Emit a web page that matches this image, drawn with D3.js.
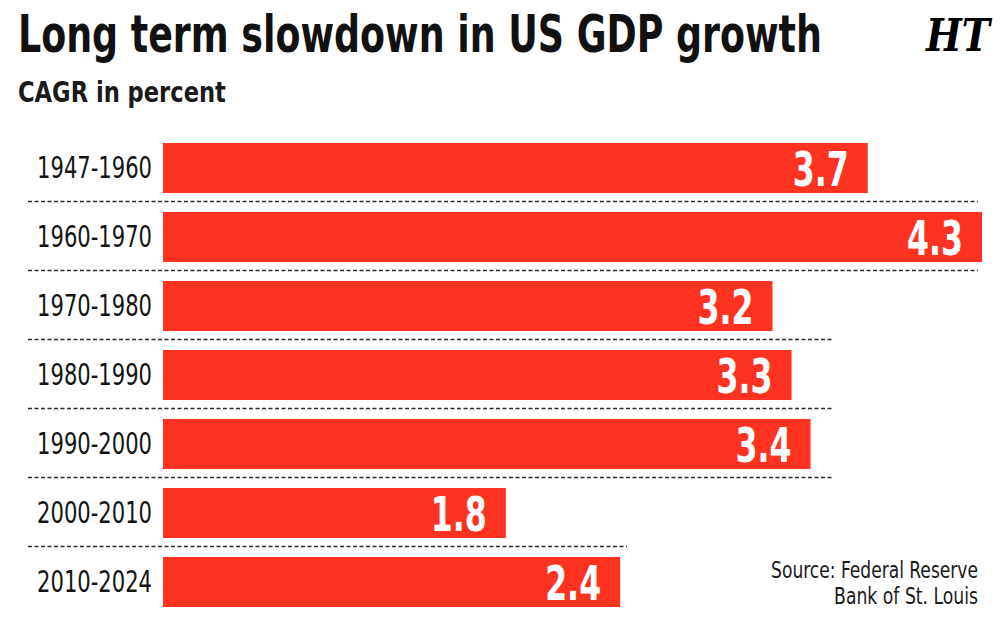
<!doctype html>
<html>
<head>
<meta charset="utf-8">
<style>
    body { margin: 0; background: #fff; }
    svg { display: block; }
    text { font-family: 'DejaVu Sans Condensed', 'Liberation Sans Narrow', sans-serif; }
    .title { font-size: 51px; font-weight: 700; fill: #111; }
    .subtitle { font-size: 28px; font-weight: 700; fill: #1a1a1a; }
    .cat { font-size: 31px; fill: #141414; }
    .value { font-size: 48px; font-weight: 700; fill: #fff; }
    .source { font-size: 23px; fill: #1a1a1a; }
    .logo { font-family: 'DejaVu Serif', serif; font-size: 44px; font-weight: 700; font-style: italic; fill: #000; }
    .bar { fill: #fd3221; }
    .grid { stroke: #2a2a2a; stroke-width: 1.6; stroke-dasharray: 4 2.5; }
</style>
<script src="https://d3js.org/d3.v7.min.js"></script>
</head>
<body>
<svg width="1000" height="625"></svg>
<script>
    const periods = ['1947-1960', '1960-1970', '1970-1980', '1980-1990', '1990-2000', '2000-2010', '2010-2024']
    const cagr = [3.7, 4.3, 3.2, 3.3, 3.4, 1.8, 2.4]

    // right end of each dashed separator (layout only)
    const gridEnds = [978, 978, 834, 834, 834, 627]

    const data = periods.map((p, i) => ({ period: p, value: cagr[i] }))

    const svg = d3.select('svg')

    // squeeze a text horizontally so it spans the given width, anchored at (x, y)
    function fit(sel, x, y, w) {
        sel.each(function (d, i) {
            const len = this.getComputedTextLength()
            const px = typeof x === 'function' ? x(d, i) : x
            const py = typeof y === 'function' ? y(d, i) : y
            const pw = typeof w === 'function' ? w(d, i) : w
            d3.select(this)
                .attr('x', 0)
                .attr('y', 0)
                .attr('transform', `translate(${px},${py}) scale(${pw / len},1)`)
        })
    }

    const x = d3.scaleLinear()
        .domain([0, 4.3])
        .range([163, 982])

    const y = d3.scaleBand()
        .domain(periods)
        .range([143, 607])
        .paddingInner(0.275)
        .paddingOuter(0)

    // title block
    svg.append('text')
        .attr('class', 'title')
        .text('Long term slowdown in US GDP growth')
        .call(fit, 18, 52, 804)

    svg.append('text')
        .attr('class', 'subtitle')
        .text('CAGR in percent')
        .call(fit, 18, 102, 208)

    svg.append('text')
        .attr('class', 'logo')
        .attr('text-anchor', 'end')
        .text('HT')
        .call(fit, 990, 51, 64)

    // dashed separators between rows
    const sepY = (i) => y(periods[i]) + y.bandwidth() + y.step() * y.paddingInner() / 2 - 1

    svg.selectAll('.grid')
        .data(gridEnds)
        .enter()
        .append('line')
        .attr('class', 'grid')
        .attr('x1', 28)
        .attr('x2', (d) => d)
        .attr('y1', (d, i) => sepY(i))
        .attr('y2', (d, i) => sepY(i))

    const rows = svg.selectAll('.row')
        .data(data)
        .enter()
        .append('g')
        .attr('class', 'row')

    rows.append('rect')
        .attr('class', 'bar')
        .attr('x', x(0))
        .attr('y', (d) => y(d.period))
        .attr('width', (d) => x(d.value) - x(0))
        .attr('height', y.bandwidth())

    rows.append('text')
        .attr('class', 'cat')
        .attr('text-anchor', 'end')
        .text((d) => d.period)
        .call(fit, 152, (d) => y(d.period) + y.bandwidth() / 2 + 10, 115)

    rows.append('text')
        .attr('class', 'value')
        .attr('text-anchor', 'end')
        .text((d) => d.value.toFixed(1))
        .call(fit, (d) => x(d.value) - 19, (d) => y(d.period) + y.bandwidth() / 2 + 18, 56)

    svg.append('text')
        .attr('class', 'source')
        .attr('text-anchor', 'end')
        .text('Source: Federal Reserve')
        .call(fit, 978, 578, 207)

    svg.append('text')
        .attr('class', 'source')
        .attr('text-anchor', 'end')
        .text('Bank of St. Louis')
        .call(fit, 978, 604, 144)
</script>
</body>
</html>
